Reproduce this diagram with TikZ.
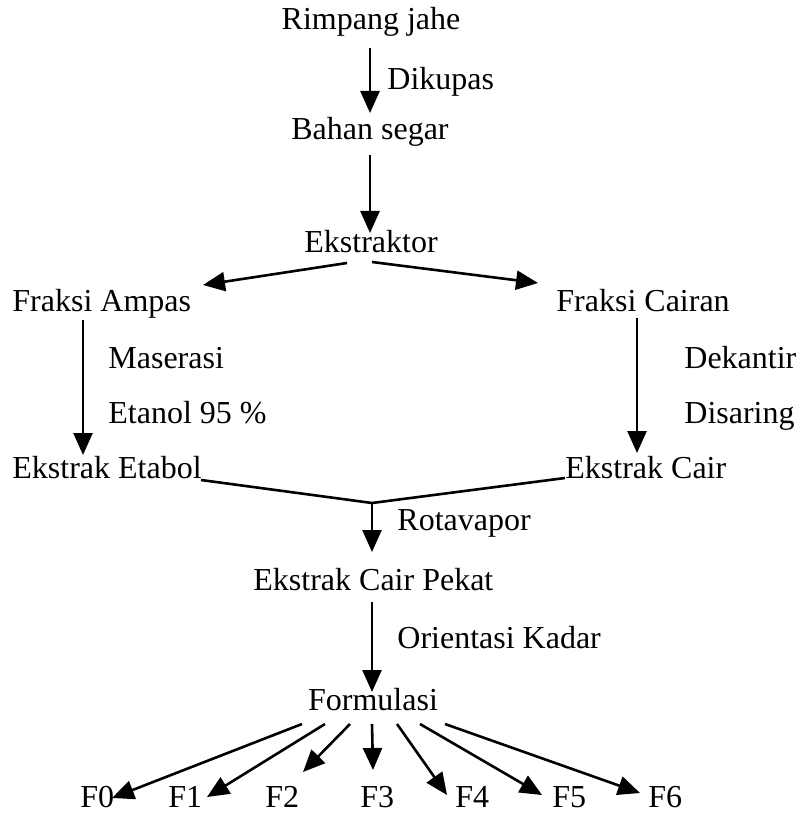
\documentclass[tikz,border=0pt]{standalone}
\usepackage{fontspec}
\setmainfont{Liberation Serif}
\usetikzlibrary{arrows.meta,calc}
\begin{document}
\begin{tikzpicture}[x=0.5pt,y=-0.5pt,
  lbl/.style={inner sep=0pt,font=\fontsize{16}{19}\selectfont},
  arr/.style={line width=1.3pt,-{Triangle[length=11pt,width=9.5pt]}},
  ln/.style={line width=1.3pt}]
\useasboundingbox (0,0) rectangle (799,817);
% nodes
\node[lbl,anchor=base] (rj) at (371,30) {Rimpang jahe};
\node[lbl,anchor=base west] (dik) at (387,90) {Dikupas};
\node[lbl,anchor=base] (bs) at (370,140) {Bahan segar};
\node[lbl,anchor=base] (ek) at (371,253) {Ekstraktor};
\node[lbl,anchor=base west] (fa) at (12,312) {Fraksi Ampas};
\node[lbl,anchor=base west] (fc) at (556,312) {Fraksi Cairan};
\node[lbl,anchor=base west] (mas) at (108,368) {Maserasi};
\node[lbl,anchor=base west] (eta) at (108,423) {Etanol 95 \%};
\node[lbl,anchor=base west] (dek) at (684,368) {Dekantir};
\node[lbl,anchor=base west] (dis) at (684,423) {Disaring};
\node[lbl,anchor=base west] (ee) at (12,478) {Ekstrak Etabol};
\node[lbl,anchor=base west] (ec) at (565,478) {Ekstrak Cair};
\node[lbl,anchor=base west] (rot) at (397,530) {Rotavapor};
\node[lbl,anchor=base west] (ecp) at (253,590) {Ekstrak Cair Pekat};
\node[lbl,anchor=base west] (ori) at (397,648) {Orientasi Kadar};
\node[lbl,anchor=base] (form) at (373,710) {Formulasi};
\node[lbl,anchor=base west] (f0) at (80,807) {F0};
\node[lbl,anchor=base west] (f1) at (168,807) {F1};
\node[lbl,anchor=base west] (f2) at (265,807) {F2};
\node[lbl,anchor=base west] (f3) at (360,807) {F3};
\node[lbl,anchor=base west] (f4) at (455,807) {F4};
\node[lbl,anchor=base west] (f5) at (552,807) {F5};
\node[lbl,anchor=base west] (f6) at (648,807) {F6};
\coordinate (m) at (372,503);
% connectors
\draw[arr] ($(rj.base)+(-1,18)$) -- ($(bs.base)+(0,-27)$);
\draw[arr] ($(bs.base)+(0,15)$) -- ($(ek.base)+(-1,-20)$);
\draw[arr] ($(ek.base)+(-24,10)$) -- ($(fa.base west)+(191,-27)$);
\draw[arr] ($(ek.base)+(1,9)$) -- ($(fc.base west)+(-18,-29)$);
\draw[arr] ($(fa.base west)+(71,8)$) -- ($(ee.base west)+(71,-23)$);
\draw[arr] ($(fc.base west)+(81,6)$) -- ($(ec.base west)+(72,-25)$);
\draw[ln] ($(ee.base west)+(189,2)$) -- (m);
\draw[ln] ($(ec.base west)+(0,0)$) -- (m);
\draw[arr] (m) -- ($(ecp.base west)+(119,-38)$);
\draw[arr] ($(ecp.base west)+(119,12)$) -- ($(form.base)+(-1,-18)$);
\draw[arr] ($(form.base)+(-71,14)$) -- ($(f0.base west)+(32,-9)$);
\draw[arr] ($(form.base)+(-48,14)$) -- ($(f1.base west)+(39,-10)$);
\draw[arr] ($(form.base)+(-23,14)$) -- ($(f2.base west)+(38,-35)$);
\draw[arr] ($(form.base)+(-1,14)$) -- ($(f3.base west)+(13,-37)$);
\draw[arr] ($(form.base)+(24,14)$) -- ($(f4.base west)+(-8,-12)$);
\draw[arr] ($(form.base)+(47,14)$) -- ($(f5.base west)+(-10,-12)$);
\draw[arr] ($(form.base)+(72,14)$) -- ($(f6.base west)+(-8,-14)$);
\end{tikzpicture}
\end{document}
